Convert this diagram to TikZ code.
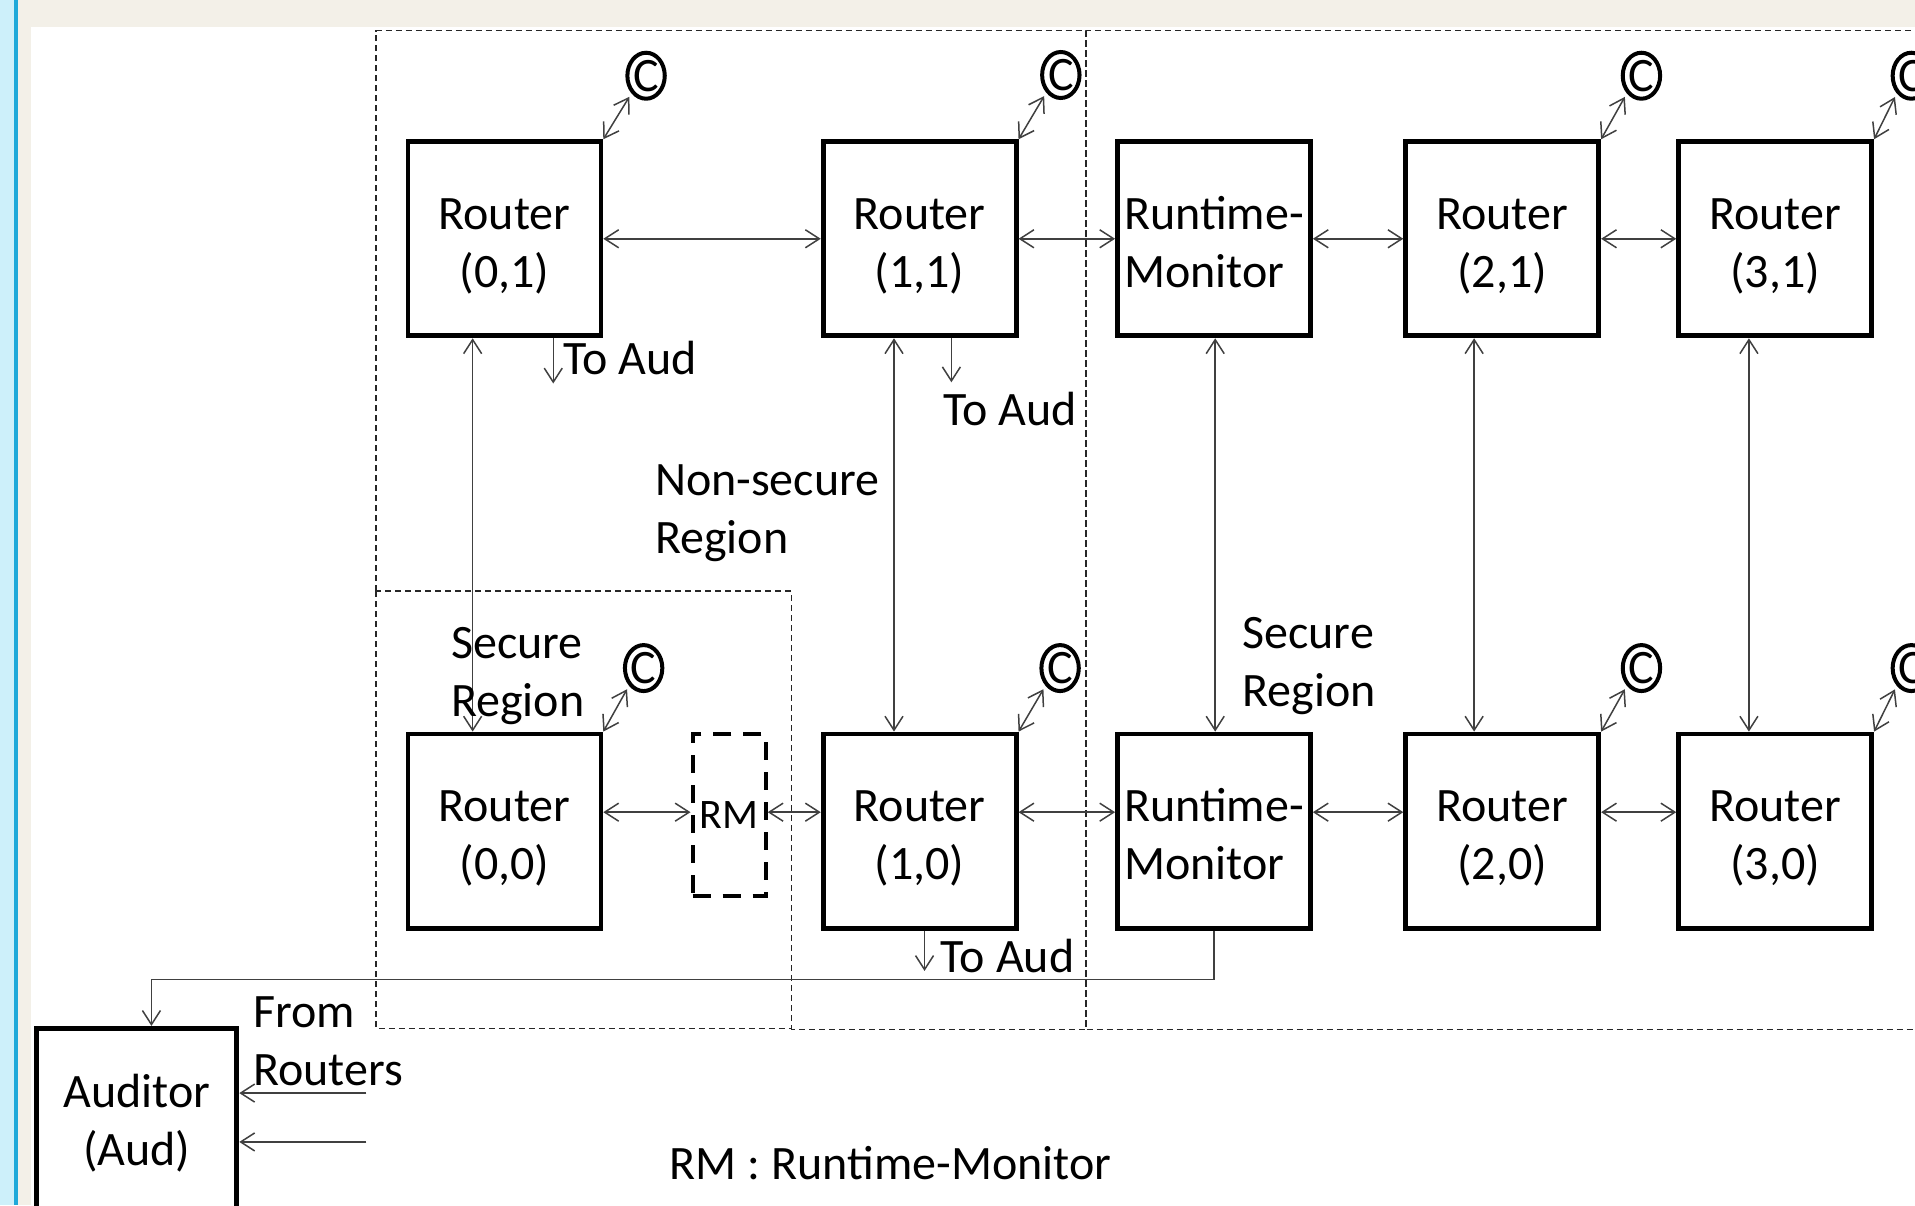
\documentclass[tikz,border=0pt]{standalone}
\usepackage{fontspec}
\setmainfont{Carlito}
\usepackage{tikz}
\usetikzlibrary{
  arrows.meta,
  calc,
  shapes.geometric
}
\definecolor{framebeige}{HTML}{F3F0E8}
\definecolor{framesky}{HTML}{CDF0FA}
\definecolor{frameblue}{HTML}{1EA9D9}

\begin{document}
\begin{tikzpicture}[
  x=0.61065pt, y=-0.61065pt,
  font=\fontsize{24}{29}\selectfont,
  unit/.style={draw, line width=2.4pt, minimum width=96.5pt, minimum height=97.1pt, inner sep=0pt, align=center},
  router/.style={unit, text height=52pt, text depth=3.2pt},
  monitor/.style={router, align=left},
  rmbox/.style={draw, line width=2pt, dash pattern=on 9pt off 6pt, minimum width=36.6pt, minimum height=81.2pt, inner sep=0pt, font=\fontsize{21}{25}\selectfont},
  cnode/.style={draw, ellipse, line width=2pt, minimum width=18.7pt, minimum height=23pt, inner sep=0pt},
  link/.style={{Straight Barb[length=7pt,width=9pt]}-{Straight Barb[length=7pt,width=9pt]}, line width=0.75pt, black!75},
  toaud/.style={-{Straight Barb[length=7pt,width=9pt]}, line width=0.75pt, black!75},
  region/.style={line width=0.75pt, black!85, dash pattern=on 3pt off 2pt},
  txt/.style={inner sep=0pt, align=left, anchor=west},
]
\useasboundingbox (0,0) rectangle (1568,987);
\clip (0,0) rectangle (1568,987);

% Window frame
\fill[white] (0,0) rectangle (1568,987);
\fill[framebeige] (0,0) rectangle (1568,22);
\fill[framebeige] (0,0) rectangle (25,987);
\fill[framesky] (0,0) rectangle (11.5,987);
\fill[frameblue] (11.5,0) rectangle (14.7,987);

% Regions
\draw[region] (308,484) -- (308,25) -- (889,25) -- (889,843) -- (648,843);
\draw[region] (308,484) rectangle (648,842);
\draw[region] (889,25) rectangle (1600,843);

% Top row
\node[router] (r01) at (413,195.5) {Router\\(0,1)};
\node[router] (r11) at (753,195.5) {Router\\(1,1)};
\node[monitor] (rmt) at (994,195.5) {Runtime-\\Monitor};
\node[router] (r21) at (1230,195.5) {Router\\(2,1)};
\node[router] (r31) at (1453.5,195.5) {Router\\(3,1)};

% Bottom row
\node[router] (r00) at (413,680.5) {Router\\(0,0)};
\node[rmbox] (rms) at (597,667.5) {RM};
\node[router] (r10) at (753,680.5) {Router\\(1,0)};
\node[monitor] (rmb) at (994,680.5) {Runtime-\\Monitor};
\node[router] (r20) at (1230,680.5) {Router\\(2,0)};
\node[router] (r30) at (1453.5,680.5) {Router\\(3,0)};

% Auditor
\node[unit, minimum width=100.1pt, minimum height=95.3pt] (aud) at (112,920) {Auditor\\(Aud)};

% Cores
\node[cnode] (c01) at (529,62) {C};
\node[cnode] (c11) at (868.6,61.4) {C};
\node[cnode] (c21) at (1344,62) {C};
\node[cnode] (c31) at (1565,62) {C};
\node[cnode] (c00) at (527,547) {C};
\node[cnode] (c10) at (868,547) {C};
\node[cnode] (c20) at (1344,547) {C};
\node[cnode] (c30) at (1565,547) {C};

\draw[link, shorten >=2pt] (r01.north east) -- (c01.south west);
\draw[link, shorten >=2pt] (r11.north east) -- (c11.south west);
\draw[link, shorten >=2pt] (r21.north east) -- (c21.south west);
\draw[link, shorten >=2pt] (r31.north east) -- (c31.south west);
\draw[link, shorten >=2pt] (r00.north east) -- (c00.south west);
\draw[link, shorten >=2pt] (r10.north east) -- (c10.south west);
\draw[link, shorten >=2pt] (r20.north east) -- (c20.south west);
\draw[link, shorten >=2pt] (r30.north east) -- (c30.south west);

% Horizontal links
\draw[link] (r01.east) -- (r11.west);
\draw[link] (r11.east) -- (rmt.west);
\draw[link] (rmt.east) -- (r21.west);
\draw[link] (r21.east) -- (r31.west);

\coordinate (lane) at (0,665);
\draw[link] (r00.east |- lane) -- (rms.west |- lane);
\draw[link] (rms.east |- lane) -- (r10.west |- lane);
\draw[link] (r10.east |- lane) -- (rmb.west |- lane);
\draw[link] (rmb.east |- lane) -- (r20.west |- lane);
\draw[link] (r20.east |- lane) -- (r30.west |- lane);

% Vertical links
\draw[link] ($(r01.south)+(-26,0)$) -- ($(r00.north)+(-26,0)$);
\draw[link] ($(r11.south)+(-21,0)$) -- ($(r10.north)+(-21,0)$);
\draw[link] ($(rmt.south)+(1,0)$) -- ($(rmb.north)+(1,0)$);
\draw[link] ($(r21.south)+(-23,0)$) -- ($(r20.north)+(-23,0)$);
\draw[link] ($(r31.south)+(-21.5,0)$) -- ($(r30.north)+(-21.5,0)$);

% To auditor
\coordinate (aud1) at (453,314);
\coordinate (aud2) at (779,313);
\coordinate (aud3) at (757,795);
\draw[toaud] (r01.south -| aud1) -- (aud1);
\draw[toaud] (r11.south -| aud2) -- (aud2);
\draw[toaud] (r10.south -| aud3) -- (aud3);
\node[txt] (t1) at (461,293) {To Aud};
\node[txt] (t2) at (772,335) {To Aud};
\node[txt] (t3) at (770,783) {To Aud};

\coordinate (bus) at (0,802);
\draw[toaud] (rmb.south) -- (rmb.south |- bus) -| ($(aud.north)+(12,0)$);

\coordinate (in1) at (300,895);
\coordinate (in2) at (300,935);
\draw[toaud] (in1) -- (in1 -| aud.east);
\draw[toaud] (in2) -- (in2 -| aud.east);

% Labels
\node[txt] (nsec) at (536,420.5) {Non-secure\\Region};
\node[txt] (secl) at (369,553.5) {Secure\\Region};
\node[txt] (secr) at (1017,545.5) {Secure\\Region};
\node[txt] (from) at (207,852.5) {From\\Routers};
\node[txt] (legend) at (548,952.5) {RM : Runtime-Monitor};
\end{tikzpicture}
\end{document}
